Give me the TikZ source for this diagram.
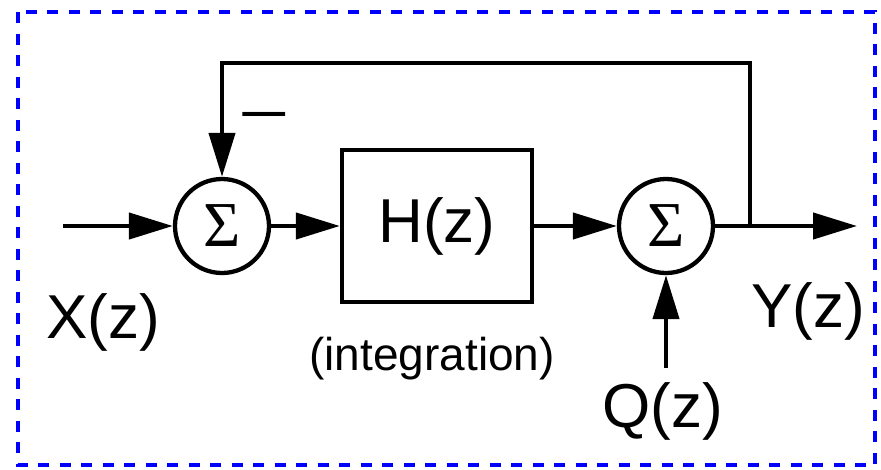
\documentclass[tikz,border=0pt]{standalone}
\usepackage{fontspec}
\setmainfont{Liberation Sans}
\newfontfamily\sigfont{Liberation Serif}
\usetikzlibrary{arrows.meta}
\begin{document}
\begin{tikzpicture}[x=1pt,y=-1pt,
  wire/.style={line width=4.3pt},
  arr/.style={line width=4.3pt,-{Triangle[length=44pt,width=26pt]}},
  sumnode/.style={circle,draw,line width=4.3pt,minimum size=94pt,inner sep=0pt,
    font=\sigfont\fontsize{64}{64}\selectfont},
  blockbox/.style={rectangle,draw,line width=4.3pt,minimum width=190pt,minimum height=152pt,inner sep=0pt,
    font=\fontsize{62}{62}\selectfont},
  biglabel/.style={font=\fontsize{62}{62}\selectfont,inner sep=0pt,anchor=base},
  smalllabel/.style={font=\fontsize{46}{46}\selectfont,inner sep=0pt,anchor=base}]
\useasboundingbox (0,0) rectangle (881,469);
\draw[blue,line width=4.5pt,dash pattern=on 11pt off 10.5pt] (18,12) rectangle (875,465);
\node[sumnode] (s1) at (222,226) {Σ};
\node[blockbox] (h) at (437,226) {H(z)};
\node[sumnode] (s2) at (666,226) {Σ};
\coordinate (in) at (63,226);
\coordinate (out) at (857,226);
\coordinate (j) at (750,226);
\coordinate (ftop) at (750,63);
\coordinate (q) at (666,368);
\draw[arr] (in) -- (s1);
\draw[arr] (s1) -- (h);
\draw[arr] (h) -- (s2);
\draw[arr] (s2) -- (out);
\draw[arr] (q) -- (s2);
\draw[arr] (j) -- (ftop) -| (s1.north);
\node[font=\fontsize{88}{88}\selectfont,inner sep=0pt] (minus) at (264,123) {\scalebox{1}[0.65]{−}};
\node[biglabel] (xl) at (103,338) {X(z)};
\node[biglabel] (yl) at (808,327) {Y(z)};
\node[biglabel] (ql) at (663,427) {Q(z)};
\node[smalllabel] (il) at (432,370) {(integration)};
\end{tikzpicture}
\end{document}
